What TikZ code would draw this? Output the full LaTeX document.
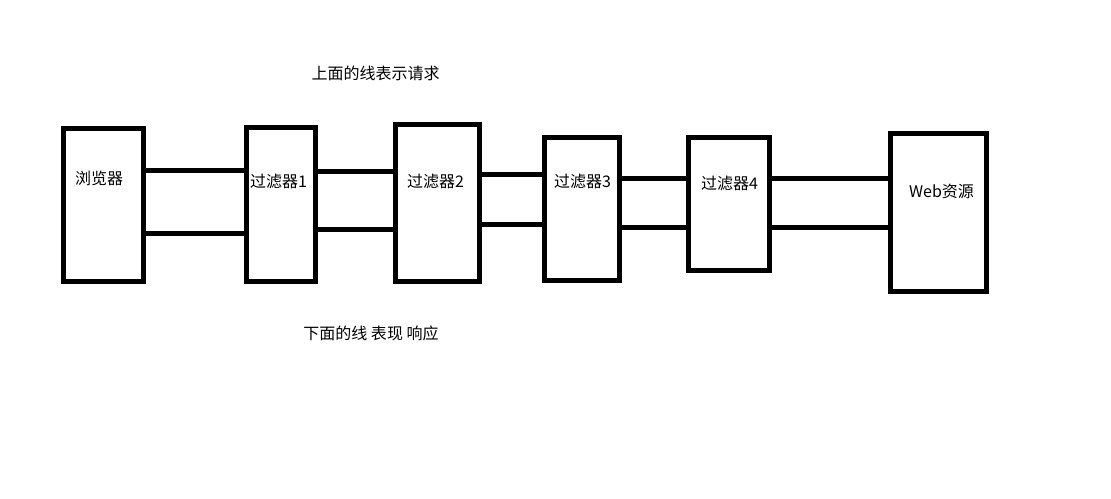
\documentclass[tikz,border=0pt]{standalone}
\usepackage{fontspec}
\setmainfont{Noto Sans CJK SC}
\usetikzlibrary{positioning, calc}

\begin{document}
\begin{tikzpicture}[
    x=1pt, y=-1pt,
    box/.style     = {rectangle, draw=black, line width=5pt, inner sep=0pt, outer sep=0pt},
    boxtext/.style = {inner sep=0pt, font=\fontsize{16}{19}\selectfont},
    wire/.style    = {line width=5pt}
]
    \useasboundingbox [fill=white] (0,0) rectangle (1111,498);

    % --- Kotak Utama ---
    \node (browser) [box, minimum width=80pt, minimum height=153pt] at (103.5,205) {};
    \node (f1)      [box, minimum width=69pt, minimum height=154pt] at (281,204.5) {};
    \node (f2)      [box, minimum width=84pt, minimum height=157pt] at (437.5,203) {};
    \node (f3)      [box, minimum width=75pt, minimum height=143pt] at (582,209) {};
    \node (f4)      [box, minimum width=81pt, minimum height=133pt] at (729,204) {};
    \node (web)     [box, minimum width=96pt, minimum height=158pt] at (938.5,212.5) {};

    % --- Teks Kotak ---
    \node (browser_t) [boxtext] at (99,178)    {浏览器};
    \node (f1_t)      [boxtext] at (278.5,181) {过滤器1};
    \node (f2_t)      [boxtext] at (435.5,181) {过滤器2};
    \node (f3_t)      [boxtext] at (582.5,181) {过滤器3};
    \node (f4_t)      [boxtext] at (729.5,183) {过滤器4};
    \node (web_t)     [boxtext] at (941.5,191) {Web资源};

    % --- Keterangan ---
    \node (req_t)  [boxtext] at (375.5,73) {上面的线表示请求};
    \node (resp_t) [boxtext] at (371,333)  {下面的线 表现 响应};

    % --- Garis Atas (Request) ---
    \draw [wire] (browser.east |- 0,170.7) -- (f1.west |- 0,170.7);
    \draw [wire] (f1.east |- 0,171) -- (f2.west |- 0,171);
    \draw [wire] (f2.east |- 0,174) -- (f3.west |- 0,174);
    \draw [wire] (f3.east |- 0,178) -- (f4.west |- 0,178);
    \draw [wire] (f4.east |- 0,178) -- (web.west |- 0,178);

    % --- Garis Bawah (Response) ---
    \draw [wire] (browser.east |- 0,233.3) -- (f1.west |- 0,233.3);
    \draw [wire] (f1.east |- 0,229.5) -- (f2.west |- 0,229.5);
    \draw [wire] (f2.east |- 0,224) -- (f3.west |- 0,224);
    \draw [wire] (f3.east |- 0,227) -- (f4.west |- 0,227);
    \draw [wire] (f4.east |- 0,227) -- (web.west |- 0,227);

\end{tikzpicture}
\end{document}
